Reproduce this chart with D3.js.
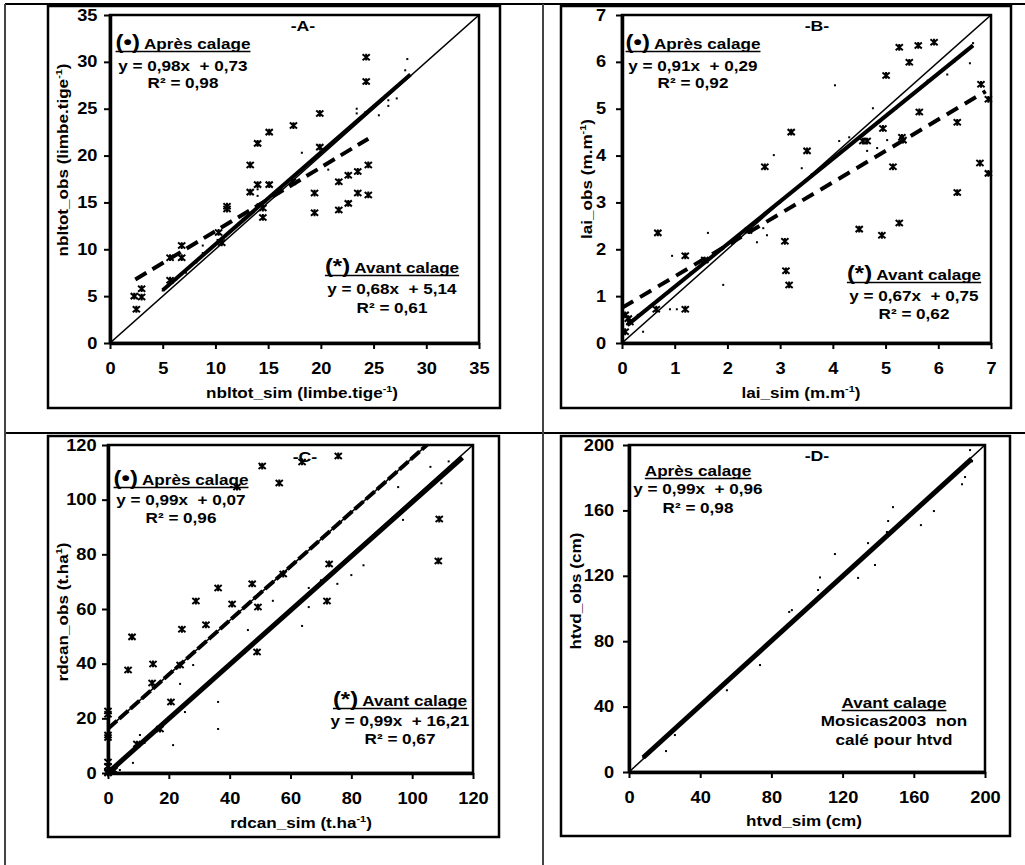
<!DOCTYPE html>
<html>
<head>
<meta charset="utf-8">
<script src="https://cdnjs.cloudflare.com/ajax/libs/d3/7.8.5/d3.min.js"></script>
<style>
body { margin: 0; background: #fff; }
svg { display: block; }
text { font-family: "Liberation Sans", Arial, sans-serif; font-weight: bold; fill: #000; white-space: pre; }
</style>
</head>
<body>
<svg id="chart" width="1025" height="865"></svg>
<script>
// ---- values: [sim, obs] ----

// -A- nbltot
var aTicks = [0, 5, 10, 15, 20, 25, 30, 35];
var aAvant = [[2.5,3.6],[2.3,5.0],[3.0,4.9],[3.0,5.8],[5.7,6.7],[5.7,9.1],[6.8,9.1],[6.8,10.4],
  [10.3,11.8],[10.6,10.7],[11.1,14.3],[11.1,14.6],[13.3,16.1],[13.3,19.0],[14.0,16.9],[15.1,16.9],
  [14.0,21.3],[15.1,22.5],[17.4,23.2],[19.9,24.5],[19.9,20.9],[24.3,30.5],[24.3,27.9],[24.5,19.0],
  [23.5,18.3],[22.6,17.9],[21.7,17.2],[17.3,17.2],[19.4,16.0],[23.5,16.0],[24.5,15.8],[19.4,13.9],
  [21.7,14.2],[22.6,14.9],[14.5,14.4],[14.5,13.4]];
var aApres = [[5.0,5.6],[5.6,6.2],[6.3,6.8],[7.2,7.5],[8.2,8.6],[8.8,9.6],[8.8,10.4],[9.6,10.2],
  [10.2,11.0],[11.0,11.4],[11.8,12.3],[12.6,13.2],[13.5,14.0],[14.0,14.8],[14.0,15.7],[14.0,16.4],
  [15.2,15.6],[16.0,16.2],[16.8,17.3],[17.6,18.0],[18.2,20.3],[18.8,19.2],[19.6,20.0],[20.7,18.5],
  [21.4,21.7],[22.3,22.5],[23.4,25.0],[23.4,24.5],[24.2,24.6],[25.0,25.3],[25.5,24.3],[26.4,25.9],
  [26.4,25.3],[27.2,26.1],[27.6,27.8],[28.0,29.1],[28.2,30.3]];
// regression: slope, intercept, x from, x to
var aFitApres = [0.98, 0.73, 5.0, 28.5];
var aFitAvant = [0.68, 5.14, 2.4, 24.5];

// -B- lai
var bTicks = [0, 1, 2, 3, 4, 5, 6, 7];
var bAvant = [[0.06,0.24],[0.06,0.60],[0.12,0.52],[0.15,0.45],[0.65,0.72],[0.68,2.35],[1.20,1.86],
  [1.20,0.72],[1.57,1.77],[2.40,2.40],[2.71,3.76],[3.09,2.17],[3.11,1.54],[3.17,1.24],[3.21,4.50],
  [3.51,4.10],[4.50,2.43],[4.57,4.31],[4.65,4.31],[4.93,2.30],[4.95,4.58],[5.14,3.76],[5.26,2.56],
  [5.31,4.39],[5.33,4.33],[5.01,5.71],[5.26,6.31],[5.45,5.99],[5.62,6.35],[5.92,6.42],[5.64,4.93],
  [6.36,4.71],[6.36,3.21],[6.79,3.84],[6.81,5.52],[6.95,5.20],[6.95,3.62]];
var bApres = [[0.12,0.45],[0.30,0.60],[0.40,0.24],[0.60,0.85],[0.91,0.72],[1.04,0.72],[0.95,1.86],
  [1.30,1.50],[1.63,2.35],[1.80,1.95],[1.92,1.24],[2.20,2.30],[2.56,2.15],[2.68,2.45],[2.75,2.30],
  [2.88,4.01],[3.00,3.00],[3.41,3.73],[3.60,3.60],[4.04,5.50],[4.12,4.31],[4.31,4.39],[4.40,4.30],
  [4.65,4.10],[4.76,5.01],[4.84,4.16],[5.03,4.33],[5.20,5.00],[5.80,5.60],[6.17,5.73],[6.30,6.00],
  [6.60,5.97],[6.66,6.40]];
var bFitApres = [0.91, 0.29, 0.1, 6.66];
var bFitAvant = [0.67, 0.75, 0, 6.9];

// -C- rdcan
var cTicks = [0, 20, 40, 60, 80, 100, 120];
var cAvant = [[0,0],[0,0.5],[0,2.5],[0,4.0],[0,13.0],[0,13.9],[0,21.5],[0,22.7],[2,1],[6.6,37.7],
  [7.9,49.8],[9.5,10.6],[14.5,32.9],[14.8,39.9],[17.1,16.1],[20.7,26.0],[23.7,39.5],[24.3,52.6],
  [28.9,62.9],[32.2,54.2],[36.2,67.7],[40.8,61.8],[42.4,104.6],[47.4,69.2],[49.3,60.7],[49.0,44.3],
  [50.7,112.3],[56.3,106.1],[57.6,72.8],[63.8,113.8],[72.0,62.9],[72.7,76.5],[75.7,116.0],
  [108.6,77.6],[108.9,92.9]];
var cApres = [[0.5,0.3],[1.5,1.5],[3.9,1.1],[8.2,3.7],[10.5,13.9],[12,11],[16,16.5],[20,20.5],
  [21.4,10.2],[23.7,32.6],[25.3,22.3],[28,39.5],[30,30],[36.2,26],[36.2,16.1],[40,40],[45,44],
  [46,52.3],[50,112.7],[54.2,63],[60,59],[63.8,53.8],[66,67.7],[66,60.7],[70,70.5],[75.4,69.2],
  [80,72.4],[84,76],[90,89],[95.4,104.6],[97,92.6],[100,99],[106,112],[109.6,106],[112,114],[115,114]];
var cFitApres = [0.99, 0.07, 0, 116.5];
var cFitAvant = [0.99, 16.21, 0, 120];

// -D- htvd
var dTicks = [0, 40, 80, 120, 160, 200];
var dApres = [[8,9],[10,11],[20.8,12.8],[25.8,22.6],[30,30.5],[40,40.5],[55,50],[60,60],[73.6,65.4],
  [80,80],[90,97.9],[91.5,99],[100,100],[106.2,111.3],[107.3,119],[115.7,133.3],[120,119],
  [128.7,118.7],[134.3,140],[138.2,126.6],[144.9,146.8],[145.6,153.5],[148.3,162],[155,154],
  [164,151],[171.3,159.6],[180,179],[187.1,176],[188.8,180.4],[191.6,196.9],[192.7,190]];
var dFitApres = [0.99, 0.96, 8, 192.5];

var svg = d3.select("#chart");
var SX = 1.14;   // the source font is a bit wider than Liberation

// text helper: parts are strings or {t, size, sup}
function label(g, x, y, parts, o) {
  o = o || {};
  var t = g.append("g").attr("transform",
    "translate(" + x + "," + y + ")" + (o.rot ? " rotate(-90)" : "") + " scale(" + SX + ",1)");
  var el = t.append("text").attr("text-anchor", o.anchor || "middle")
    .style("font-size", (o.size || 15) + "px");
  var back = 0;
  parts.forEach(function (p) {
    if (typeof p === "string") p = { t: p };
    var s = el.append("tspan").text(p.t);
    if (p.size) s.style("font-size", p.size + "px");
    if (p.sup) { s.style("font-size", "9.5px").attr("dy", -6); back = 6; }
    else if (back) { s.attr("dy", back); back = 0; }
  });
  if (o.underline) {
    var b = el.node().getBBox();
    t.append("line").attr("x1", b.x).attr("x2", b.x + b.width)
      .attr("y1", 2.5).attr("y2", 2.5).attr("stroke", "#000").attr("stroke-width", 1.6);
  }
  return t;
}

var star = "M-3.6,-3L3.6,3M-3.6,3L3.6,-3M0,-3.4V3.4";

function drawPanel(p) {
  var g = svg.append("g");
  var x = d3.scaleLinear().domain([0, p.max]).range([p.plot[0], p.plot[1]]);
  var y = d3.scaleLinear().domain([0, p.max]).range([p.plot[3], p.plot[2]]);

  g.append("rect").attr("x", p.frame[0]).attr("y", p.frame[1])
    .attr("width", p.frame[2] - p.frame[0]).attr("height", p.frame[3] - p.frame[1])
    .attr("fill", "none").attr("stroke", "#000").attr("stroke-width", 2.5);

  g.append("clipPath").attr("id", "clip" + p.name).append("rect")
    .attr("x", p.plot[0]).attr("y", p.plot[2])
    .attr("width", p.plot[1] - p.plot[0]).attr("height", p.plot[3] - p.plot[2]);
  var body = g.append("g").attr("clip-path", "url(#clip" + p.name + ")");

  var line = d3.line().x(function (d) { return x(d[0]); }).y(function (d) { return y(d[1]); });
  function fitPts(f) { return [[f[2], f[0] * f[2] + f[1]], [f[3], f[0] * f[3] + f[1]]]; }

  // 1:1
  body.append("path").attr("d", line([[0, 0], [p.max, p.max]]))
    .attr("stroke", "#000").attr("stroke-width", 1.5).attr("fill", "none");

  if (p.fitAvant) {
    if (p.thinUnder) body.append("path").attr("d", line(fitPts(p.fitAvant)))
      .attr("stroke", "#000").attr("stroke-width", 1.6).attr("fill", "none");
    body.append("path").attr("d", line(fitPts(p.fitAvant)))
      .attr("stroke", "#000").attr("stroke-width", 4).attr("fill", "none")
      .attr("stroke-dasharray", p.dash);
  }
  body.append("path").attr("d", line(fitPts(p.fitApres)))
    .attr("stroke", "#000").attr("stroke-width", p.solidW).attr("fill", "none");

  g.selectAll(null).data(p.apres).enter().append("rect")
    .attr("x", function (d) { return x(d[0]) - 1; })
    .attr("y", function (d) { return y(d[1]) - 1; })
    .attr("width", 2).attr("height", 2).attr("fill", "#000");

  if (p.avant) g.selectAll(null).data(p.avant).enter().append("path")
    .attr("d", star)
    .attr("transform", function (d) { return "translate(" + x(d[0]) + "," + y(d[1]) + ")"; })
    .attr("stroke", "#000").attr("stroke-width", 2).attr("fill", "none");

  // plot box
  g.append("rect").attr("x", p.plot[0]).attr("y", p.plot[2])
    .attr("width", p.plot[1] - p.plot[0]).attr("height", p.plot[3] - p.plot[2])
    .attr("fill", "none").attr("stroke", "#000").attr("stroke-width", 2.5);

  var xa = g.append("g").attr("transform", "translate(0," + p.plot[3] + ")")
    .call(d3.axisBottom(x).tickValues(p.ticks).tickFormat(d3.format("d"))
      .tickSize(6).tickSizeOuter(0).tickPadding(14));
  var ya = g.append("g").attr("transform", "translate(" + p.plot[0] + ",0)")
    .call(d3.axisLeft(y).tickValues(p.ticks).tickFormat(d3.format("d"))
      .tickSize(6).tickSizeOuter(0).tickPadding(p.padY));
  [xa, ya].forEach(function (a) {
    a.select(".domain").attr("stroke-width", 3.5);
    a.selectAll(".tick line").attr("stroke-width", 2);
    a.selectAll(".tick text").style("font-size", "16px").attr("transform", "scale(" + SX + ",1)");
  });

  label(g, p.titlePos[0], p.titlePos[1], [p.title], { size: 15.5 });
  label(g, p.xTitle[0], p.xTitle[1], p.xText);
  label(g, p.yTitle[0], p.yTitle[1], p.yText, { rot: true });

  p.legends.forEach(function (l) {
    label(g, l.x, l.y[0], l.head, { underline: true });
    l.lines.forEach(function (s, i) { label(g, l.x, l.y[i + 1], [s]); });
  });
}

// table rules
var rules = svg.append("g").attr("fill", "none");
rules.append("path").attr("d", "M5,4H1025").attr("stroke", "#000").attr("stroke-width", 2);
rules.append("path").attr("d", "M5,433H1025").attr("stroke", "#000").attr("stroke-width", 2);
rules.append("path").attr("d", "M5,4V865").attr("stroke", "#444").attr("stroke-width", 2);
rules.append("path").attr("d", "M543,4V865").attr("stroke", "#444").attr("stroke-width", 2);

var apresHead = [{ t: "(•)", size: 21 }, " Après calage"];
var avantHead = [{ t: "(*)", size: 21 }, " Avant calage"];

var panels = [
  { name: "A", max: 35, ticks: aTicks, avant: aAvant, apres: aApres, fitApres: aFitApres, fitAvant: aFitAvant,
    plot: [110, 479, 15, 343], frame: [48, 6, 500, 408], padY: 5, dash: "13,7", solidW: 4,
    title: "-A-", titlePos: [303, 31],
    xTitle: [302, 398], xText: ["nbltot_sim (limbe.tige", { t: "-1", sup: true }, ")"],
    yTitle: [68, 160], yText: ["nbltot_obs (limbe.tige", { t: "-1", sup: true }, ")"],
    legends: [
      { x: 183, y: [49, 71, 88], head: apresHead, lines: ["y = 0,98x  + 0,73", "R² = 0,98"] },
      { x: 392, y: [273, 294, 313], head: avantHead, lines: ["y = 0,68x  + 5,14", "R² = 0,61"] }] },
  { name: "B", max: 7, ticks: bTicks, avant: bAvant, apres: bApres, fitApres: bFitApres, fitAvant: bFitAvant,
    plot: [622, 991, 15, 343], frame: [561, 6, 1011, 408], padY: 8, dash: "13,8", solidW: 4,
    title: "-B-", titlePos: [817, 31],
    xTitle: [801, 398], xText: ["lai_sim (m.m", { t: "-1", sup: true }, ")"],
    yTitle: [592, 179], yText: ["lai_obs (m.m", { t: "-1", sup: true }, ")"],
    legends: [
      { x: 693, y: [49, 71, 88], head: apresHead, lines: ["y = 0,91x  + 0,29", "R² = 0,92"] },
      { x: 914, y: [280, 301, 319], head: avantHead, lines: ["y = 0,67x  + 0,75", "R² = 0,62"] }] },
  { name: "C", max: 120, ticks: cTicks, avant: cAvant, apres: cApres, fitApres: cFitApres, fitAvant: cFitAvant,
    plot: [108, 473, 445, 773], frame: [48, 436, 499, 837], padY: 4, dash: "12,3", solidW: 5, thinUnder: true,
    title: "-C-", titlePos: [305, 462],
    xTitle: [301, 828], xText: ["rdcan_sim (t.ha", { t: "-1", sup: true }, ")"],
    yTitle: [68, 612], yText: ["rdcan_obs (t.ha", { t: "1", sup: true }, ")"],
    legends: [
      { x: 181, y: [485, 505, 523], head: apresHead, lines: ["y = 0,99x  + 0,07", "R² = 0,96"] },
      { x: 400, y: [706, 726, 744], head: avantHead, lines: ["y = 0,99x  + 16,21", "R² = 0,67"] }] },
  { name: "D", max: 200, ticks: dTicks, avant: null, apres: dApres, fitApres: dFitApres, fitAvant: null,
    plot: [629, 985, 445, 772], frame: [561, 436, 1010, 836], padY: 7, dash: null, solidW: 5,
    title: "-D-", titlePos: [817, 461],
    xTitle: [804, 826], xText: ["htvd_sim (cm)"],
    yTitle: [581, 591], yText: ["htvd_obs (cm)"],
    legends: [
      { x: 698, y: [476, 494, 513], head: ["Après calage"], lines: ["y = 0,99x  + 0,96", "R² = 0,98"] },
      { x: 894, y: [708, 726, 745], head: ["Avant calage"], lines: ["Mosicas2003  non", "calé pour htvd"] }] }
];

panels.forEach(drawPanel);
</script>
</body>
</html>
